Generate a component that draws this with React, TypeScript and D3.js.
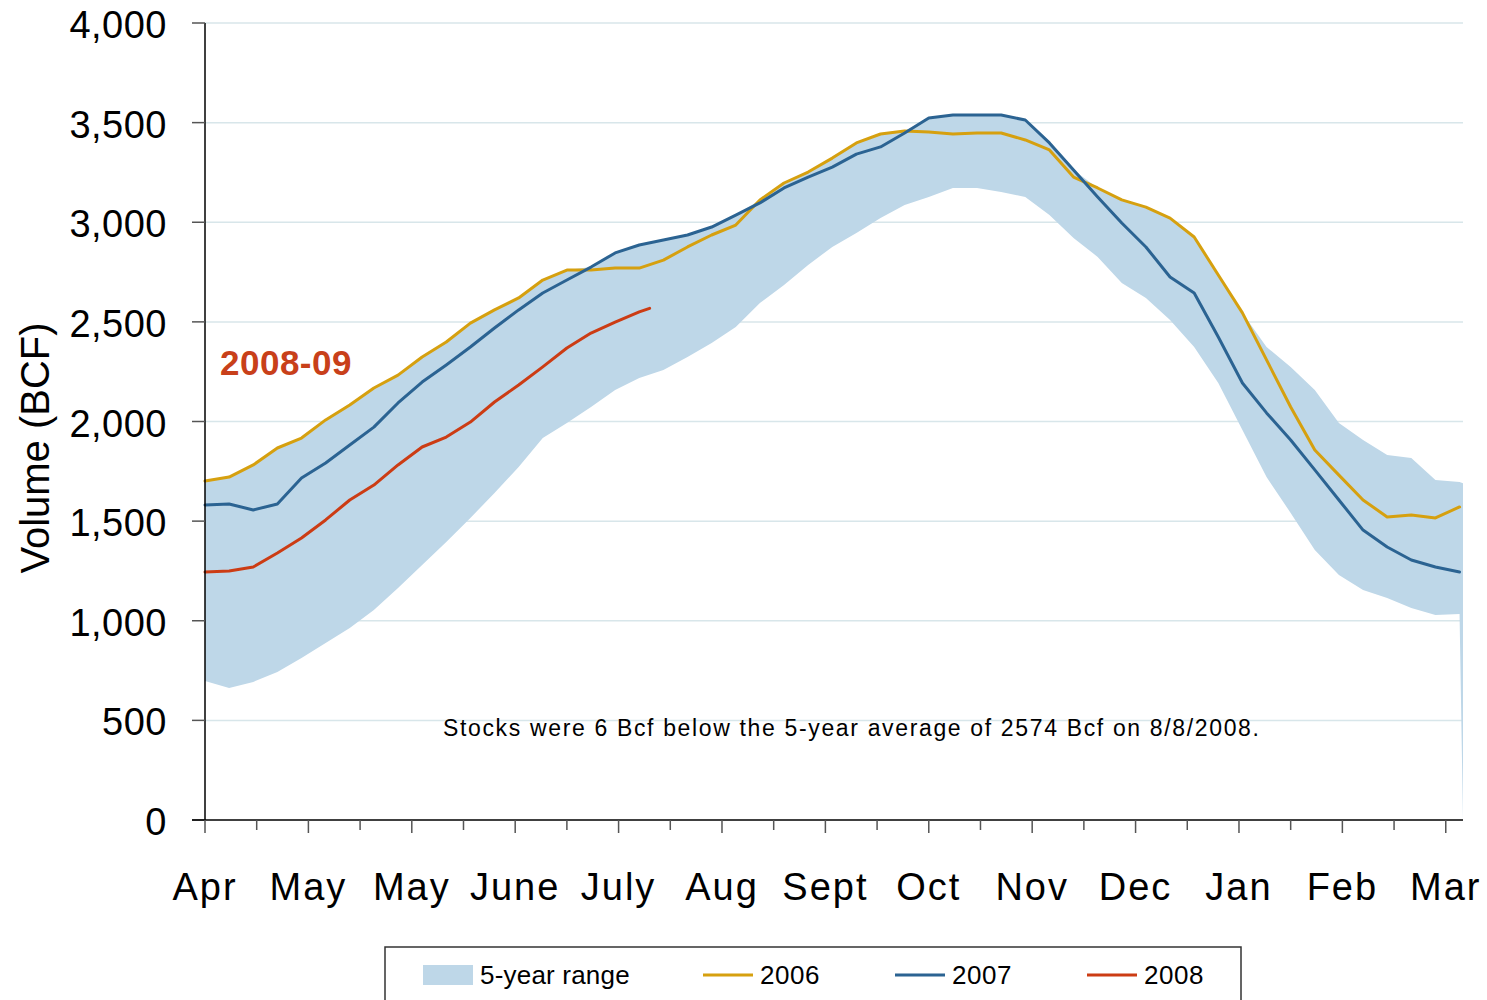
import React, { useEffect, useRef } from 'react';
import * as d3 from 'd3';

// weekly storage, Bcf, week 0 = Apr 1
const stocks2006 = [1701, 1721, 1782, 1867, 1917, 2008, 2083, 2168, 2233, 2324, 2399, 2494, 2560, 2620, 2710, 2760, 2760, 2770, 2770, 2810, 2876, 2936, 2986, 3112, 3197, 3252, 3322, 3398, 3443, 3458, 3453, 3443, 3448, 3448, 3413, 3363, 3227, 3172, 3112, 3076, 3021, 2926, 2735, 2545, 2309, 2073, 1857, 1731, 1606, 1521, 1531, 1516, 1571];
const stocks2007 = [1581, 1586, 1556, 1586, 1716, 1792, 1882, 1972, 2093, 2198, 2284, 2374, 2469, 2560, 2645, 2710, 2775, 2846, 2886, 2911, 2936, 2976, 3036, 3097, 3172, 3227, 3277, 3342, 3378, 3448, 3523, 3538, 3538, 3538, 3513, 3398, 3262, 3127, 2996, 2876, 2725, 2645, 2424, 2193, 2043, 1907, 1757, 1606, 1455, 1370, 1305, 1270, 1245];
const stocks2008 = [1245, 1250, 1270, 1340, 1415, 1506, 1606, 1681, 1782, 1872, 1922, 1997, 2098, 2183, 2274, 2369, 2444, 2499, 2550];
const rangeHigh = [1701, 1721, 1782, 1867, 1917, 2008, 2083, 2168, 2233, 2324, 2399, 2494, 2560, 2620, 2710, 2760, 2775, 2846, 2886, 2911, 2936, 2976, 3036, 3112, 3197, 3252, 3322, 3398, 3443, 3458, 3523, 3538, 3538, 3538, 3513, 3408, 3262, 3172, 3112, 3076, 3021, 2926, 2735, 2545, 2374, 2274, 2158, 1992, 1907, 1832, 1817, 1706, 1696, 1690];
const rangeLow = [698, 662, 693, 743, 813, 888, 964, 1054, 1164, 1280, 1395, 1516, 1641, 1772, 1917, 1992, 2073, 2158, 2218, 2258, 2324, 2394, 2474, 2595, 2685, 2786, 2876, 2946, 3021, 3087, 3127, 3172, 3172, 3152, 3127, 3036, 2921, 2826, 2695, 2620, 2509, 2374, 2193, 1957, 1721, 1541, 1355, 1230, 1154, 1114, 1064, 1029, 1034, 0];
const reportDay = 129; // 8/8/2008
const reportValue = 2568;
const monthLabels = ['Apr', 'May', 'May', 'June', 'July', 'Aug', 'Sept', 'Oct', 'Nov', 'Dec', 'Jan', 'Feb', 'Mar'];
const yTicks = [0, 500, 1000, 1500, 2000, 2500, 3000, 3500, 4000];

const W = 1487, H = 1000;
const margin = { left: 205, right: 24, top: 23, bottom: 180 };
const FONT = '"Liberation Sans", Arial, sans-serif';

const App = () => {
  const ref = useRef<SVGSVGElement>(null);

  useEffect(() => {
    document.body.style.margin = '0';
    const svg = d3.select(ref.current);
    svg.selectAll('*').remove();

    const x = d3.scaleLinear().domain([0, 365]).range([margin.left, W - margin.right]);
    const y = d3.scaleLinear().domain([0, 4000]).range([H - margin.bottom, margin.top]);
    const dayOf = (i: number, n: number) => (i === n - 1 && n === 54 ? 365 : i * 7);

    // grid
    svg.append('g').selectAll('line').data(yTicks.slice(1)).enter().append('line')
      .attr('x1', x(0)).attr('x2', x(365))
      .attr('y1', d => y(d)).attr('y2', d => y(d))
      .attr('stroke', '#d8e6ea').attr('stroke-width', 1.5);

    // 5-year range
    const band = rangeHigh.map((h, i) => ({ d: dayOf(i, rangeHigh.length), h, l: rangeLow[i] }));
    const area = d3.area<any>().x(p => x(p.d)).y0(p => y(p.l)).y1(p => y(p.h));
    svg.append('path').datum(band).attr('d', area).attr('fill', '#bed7e8');

    const line = d3.line<any>().x(p => x(p.d)).y(p => y(p.v));
    const series = [
      { vals: stocks2006.map((v, i) => ({ d: i * 7, v })), color: '#d6a00f' },
      { vals: stocks2007.map((v, i) => ({ d: i * 7, v })), color: '#2b6392' },
      { vals: [...stocks2008.map((v, i) => ({ d: i * 7, v })), { d: reportDay, v: reportValue }], color: '#cc3c14' },
    ];
    series.forEach(s => {
      svg.append('path').datum(s.vals).attr('d', line)
        .attr('fill', 'none').attr('stroke', s.color).attr('stroke-width', 3)
        .attr('stroke-linejoin', 'round').attr('stroke-linecap', 'round');
    });

    // y axis
    const yAxis = svg.append('g');
    yAxis.append('line').attr('x1', x(0)).attr('x2', x(0)).attr('y1', y(0)).attr('y2', y(4000))
      .attr('stroke', '#000').attr('stroke-width', 1.5);
    yAxis.selectAll('line.t').data(yTicks).enter().append('line').attr('class', 't')
      .attr('x1', x(0) - 13).attr('x2', x(0)).attr('y1', d => y(d)).attr('y2', d => y(d))
      .attr('stroke', '#555').attr('stroke-width', 1.5);
    yAxis.selectAll('text').data(yTicks).enter().append('text')
      .attr('x', 167).attr('y', d => y(d) + 15).attr('text-anchor', 'end')
      .attr('font-family', FONT).attr('font-size', 38).attr('letter-spacing', 0.5).attr('fill', '#000')
      .text(d => d3.format(',')(d));

    // x axis
    const xAxis = svg.append('g');
    xAxis.append('line').attr('x1', x(0) - 13).attr('x2', x(365)).attr('y1', y(0)).attr('y2', y(0))
      .attr('stroke', '#000').attr('stroke-width', 1.5);
    const ticks = d3.range(0, 361, 15);
    xAxis.selectAll('line.t').data(ticks).enter().append('line').attr('class', 't')
      .attr('x1', d => x(d)).attr('x2', d => x(d))
      .attr('y1', y(0)).attr('y2', (d, i) => y(0) + (i % 2 === 0 ? 13 : 10))
      .attr('stroke', '#555').attr('stroke-width', 1.5);
    xAxis.selectAll('text').data(monthLabels).enter().append('text')
      .attr('x', (d, i) => x(i * 30)).attr('y', 900).attr('text-anchor', 'middle')
      .attr('font-family', FONT).attr('font-size', 38).attr('letter-spacing', 2).attr('fill', '#000')
      .text(d => d);

    // axis title
    svg.append('text').attr('transform', 'translate(49,448) rotate(-90)')
      .attr('text-anchor', 'middle').attr('font-family', FONT).attr('font-size', 40)
      .text('Volume (BCF)');

    // labels
    svg.append('text').attr('x', 220).attr('y', 375)
      .attr('font-family', FONT).attr('font-size', 35).attr('font-weight', 'bold').attr('fill', '#c8401a')
      .attr('letter-spacing', 0.5)
      .text('2008-09');
    svg.append('text').attr('x', 443).attr('y', 736)
      .attr('font-family', FONT).attr('font-size', 23).attr('letter-spacing', 1.65).attr('fill', '#000')
      .text('Stocks were 6 Bcf below the 5-year average of 2574 Bcf on 8/8/2008.');

    // legend
    const lg = svg.append('g');
    lg.append('rect').attr('x', 385).attr('y', 947).attr('width', 856).attr('height', 70)
      .attr('fill', '#fff').attr('stroke', '#333').attr('stroke-width', 1.5);
    lg.append('rect').attr('x', 423).attr('y', 965).attr('width', 50).attr('height', 20).attr('fill', '#bed7e8');
    lg.append('text').attr('x', 480).attr('y', 984).attr('font-family', FONT).attr('font-size', 26)
      .attr('letter-spacing', 0.2).text('5-year range');
    const legendLines = [
      { x: 703, label: '2006', color: '#d6a00f' },
      { x: 895, label: '2007', color: '#2b6392' },
      { x: 1087, label: '2008', color: '#cc3c14' },
    ];
    legendLines.forEach(l => {
      lg.append('line').attr('x1', l.x).attr('x2', l.x + 50).attr('y1', 975).attr('y2', 975)
        .attr('stroke', l.color).attr('stroke-width', 3);
      lg.append('text').attr('x', l.x + 57).attr('y', 984).attr('font-family', FONT).attr('font-size', 26)
        .attr('letter-spacing', 0.5).text(l.label);
    });
  }, []);

  return <svg ref={ref} width={W} height={H} style={{ display: 'block', background: '#fff' }} />;
};

export default App;
